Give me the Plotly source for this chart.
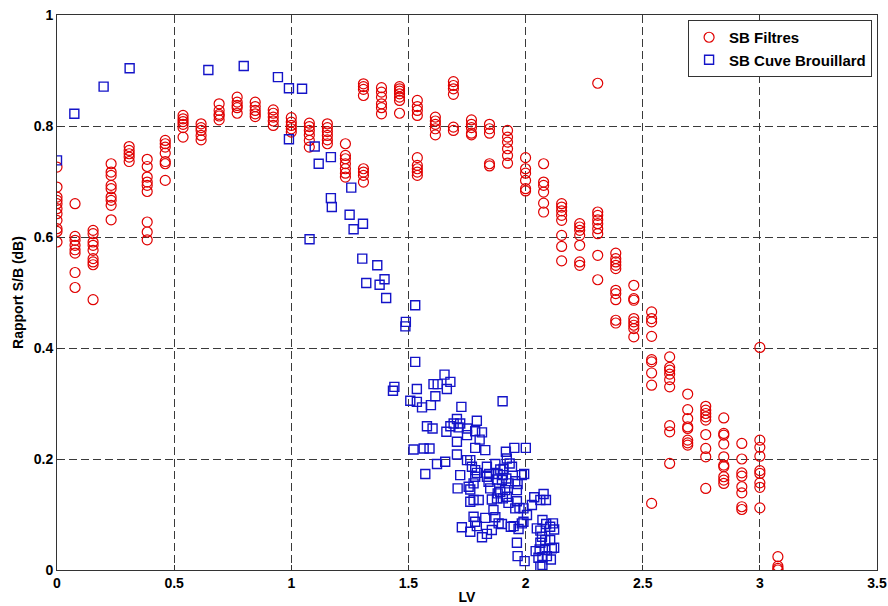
import plotly.graph_objects as go

# ---- SB Filtres (red circles): LV values and S/B values ----
red_lv = (
    [0.0]*11 + [0.077]*8 + [0.154]*9 + [0.231]*9 + [0.308]*5 + [0.385]*9 +
    [0.462]*7 + [0.538]*6 + [0.615]*5 + [0.692]*5 + [0.769]*5 + [0.846]*5 +
    [0.923]*5 + [1.0]*5 + [1.077]*6 + [1.154]*6 + [1.231]*7 + [1.308]*8 +
    [1.385]*6 + [1.462]*7 + [1.538]*9 + [1.615]*5 + [1.692]*6 + [1.769]*5 +
    [1.846]*5 + [1.923]*6 + [2.0]*6 + [2.077]*6 + [2.154]*8 + [2.231]*7 +
    [2.308]*9 + [2.385]*10 + [2.462]*8 + [2.538]*9 + [2.615]*9 + [2.692]*8 +
    [2.769]*9 + [2.846]*10 + [2.923]*8 + [3.0]*9 + [3.077]*4
)
red_sb = [
    0.726, 0.690, 0.672, 0.666, 0.660, 0.651, 0.642, 0.630, 0.615, 0.610, 0.591,
    0.660, 0.601, 0.594, 0.585, 0.577, 0.571, 0.536, 0.509,
    0.612, 0.606, 0.591, 0.585, 0.576, 0.561, 0.555, 0.550, 0.487,
    0.732, 0.717, 0.711, 0.693, 0.687, 0.672, 0.666, 0.657, 0.631,
    0.763, 0.756, 0.750, 0.744, 0.736,
    0.740, 0.727, 0.708, 0.699, 0.693, 0.682, 0.627, 0.609, 0.595,
    0.774, 0.768, 0.762, 0.751, 0.736, 0.732, 0.702,
    0.819, 0.813, 0.808, 0.803, 0.797, 0.780,
    0.804, 0.797, 0.792, 0.783, 0.775,
    0.840, 0.828, 0.821, 0.811, 0.818,
    0.852, 0.843, 0.837, 0.833, 0.823,
    0.843, 0.835, 0.828, 0.822, 0.817,
    0.829, 0.823, 0.816, 0.809, 0.801,
    0.815, 0.807, 0.801, 0.795, 0.789,
    0.805, 0.799, 0.792, 0.784, 0.774, 0.762,
    0.804, 0.797, 0.790, 0.783, 0.775, 0.768,
    0.768, 0.747, 0.741, 0.732, 0.723, 0.715, 0.708,
    0.876, 0.871, 0.866, 0.855, 0.723, 0.717, 0.711, 0.699,
    0.869, 0.861, 0.852, 0.840, 0.833, 0.822,
    0.871, 0.867, 0.863, 0.858, 0.852, 0.846, 0.823,
    0.846, 0.835, 0.828, 0.819, 0.743, 0.729, 0.723, 0.717, 0.711,
    0.816, 0.809, 0.803, 0.795, 0.784,
    0.880, 0.873, 0.867, 0.857, 0.798, 0.792,
    0.811, 0.803, 0.797, 0.787, 0.784,
    0.803, 0.795, 0.787, 0.732, 0.728,
    0.792, 0.780, 0.771, 0.759, 0.747, 0.733,
    0.743, 0.723, 0.715, 0.702, 0.687, 0.683,
    0.732, 0.699, 0.693, 0.681, 0.661, 0.645,
    0.660, 0.654, 0.647, 0.639, 0.630, 0.603, 0.583, 0.557,
    0.624, 0.618, 0.612, 0.603, 0.585, 0.555, 0.549,
    0.877, 0.645, 0.639, 0.631, 0.624, 0.615, 0.606, 0.567, 0.523,
    0.571, 0.561, 0.555, 0.549, 0.543, 0.504, 0.498, 0.487, 0.450, 0.445,
    0.513, 0.489, 0.486, 0.453, 0.447, 0.441, 0.435, 0.420,
    0.465, 0.453, 0.447, 0.421, 0.379, 0.375, 0.355, 0.333, 0.120,
    0.384, 0.365, 0.360, 0.353, 0.343, 0.330, 0.260, 0.249, 0.192,
    0.317, 0.289, 0.273, 0.258, 0.255, 0.234, 0.229, 0.225,
    0.295, 0.288, 0.282, 0.276, 0.270, 0.244, 0.219, 0.204, 0.147,
    0.274, 0.246, 0.243, 0.227, 0.204, 0.189, 0.186, 0.168, 0.162, 0.156,
    0.228, 0.200, 0.175, 0.169, 0.150, 0.139, 0.114, 0.109,
    0.401, 0.234, 0.221, 0.205, 0.179, 0.174, 0.157, 0.149, 0.112,
    0.024, 0.007, 0.003, 0.000,
]

# ---- SB Cuve Brouillard (blue squares) ----
blue_lv = [
    0.0, 0.074, 0.199, 0.31, 0.646, 0.797, 0.943, 0.99, 0.99, 1.046, 1.10, 1.117,
    1.169, 1.256, 1.169, 1.173, 1.249, 1.306, 1.266, 1.078, 1.303, 1.367, 1.320,
    1.377, 1.398, 1.405, 1.529,
    1.489, 1.487, 1.529, 1.654, 1.679, 1.607, 1.625, 1.440, 1.434, 1.536, 1.664,
    1.615, 1.508, 1.536, 1.558, 1.596, 1.902, 1.726, 1.707, 1.792, 1.579, 1.603,
    1.679, 1.693, 1.721, 1.714, 1.662, 1.750, 1.750, 1.785, 1.814, 1.804, 1.707,
    1.522, 1.565, 1.590, 1.785, 1.828, 1.952, 2.001, 1.916, 1.707, 1.750, 1.764,
    1.657, 1.622, 1.920, 1.932, 1.942, 1.771, 1.785, 1.792, 1.835, 1.871, 1.892,
    1.906, 1.845, 1.881, 1.903, 1.572, 1.721, 1.785, 1.778, 1.835, 1.842, 1.878,
    1.899, 1.918, 1.927, 1.956, 1.984, 1.994, 1.966, 1.710, 1.757, 1.764, 1.849,
    1.881, 1.892, 1.913, 1.903, 1.920, 1.963, 1.764, 1.778, 1.800, 1.856, 1.878,
    1.927, 1.963, 1.974, 1.956, 1.991, 2.006, 2.027, 2.037, 2.077, 2.063, 2.087,
    1.863, 1.828, 1.871, 1.885, 1.899, 1.937, 1.949, 1.984, 1.991, 1.970, 1.778,
    1.785, 1.792, 1.728, 1.814, 1.835, 1.856, 1.764, 2.048, 2.063, 2.072, 2.088,
    2.105, 2.117, 2.122, 2.070, 2.084, 2.063, 2.105, 2.043, 2.060, 2.084, 2.112,
    2.122, 2.055, 2.072, 2.091, 2.108, 2.063, 2.072, 1.966, 1.996, 1.963,
]
blue_sb = [
    0.738, 0.822, 0.871, 0.904, 0.901, 0.908, 0.888, 0.868, 0.776, 0.867, 0.763, 0.732,
    0.744, 0.689, 0.670, 0.654, 0.640, 0.624, 0.614, 0.596, 0.561, 0.549, 0.517,
    0.514, 0.524, 0.490, 0.477,
    0.447, 0.439, 0.375, 0.352, 0.339, 0.335, 0.335, 0.330, 0.323, 0.326, 0.326,
    0.313, 0.305, 0.303, 0.293, 0.297, 0.304, 0.294, 0.272, 0.269, 0.259, 0.255,
    0.259, 0.264, 0.264, 0.257, 0.249, 0.255, 0.243, 0.250, 0.248, 0.235, 0.231,
    0.217, 0.219, 0.219, 0.220, 0.216, 0.220, 0.220, 0.213, 0.208, 0.198, 0.198,
    0.195, 0.191, 0.201, 0.192, 0.186, 0.186, 0.180, 0.175, 0.186, 0.191, 0.181,
    0.182, 0.173, 0.173, 0.171, 0.173, 0.171, 0.168, 0.156, 0.168, 0.159, 0.163,
    0.162, 0.165, 0.156, 0.160, 0.171, 0.173, 0.155, 0.147, 0.150, 0.145, 0.147,
    0.138, 0.141, 0.144, 0.129, 0.132, 0.144, 0.123, 0.126, 0.126, 0.127, 0.129,
    0.121, 0.124, 0.112, 0.111, 0.111, 0.099, 0.117, 0.131, 0.137, 0.126, 0.126,
    0.108, 0.094, 0.095, 0.084, 0.083, 0.078, 0.079, 0.084, 0.087, 0.074, 0.096,
    0.087, 0.079, 0.077, 0.059, 0.065, 0.072, 0.069, 0.075, 0.071, 0.090, 0.083,
    0.078, 0.084, 0.073, 0.060, 0.054, 0.049, 0.054, 0.034, 0.037, 0.036, 0.039,
    0.040, 0.022, 0.023, 0.025, 0.019, 0.006, 0.009, 0.025, 0.016, 0.049,
]

x_ticks = [0, 0.5, 1, 1.5, 2, 2.5, 3, 3.5]
x_tick_labels = ["0", "0.5", "1", "1.5", "2", "2.5", "3", "3.5"]
y_ticks = [0, 0.2, 0.4, 0.6, 0.8, 1]
y_tick_labels = ["0", "0.2", "0.4", "0.6", "0.8", "1"]

FONT = "Liberation Sans, Arial, sans-serif"

fig = go.Figure()
fig.add_trace(go.Scatter(
    x=red_lv, y=red_sb, mode="markers", name="<b>SB Filtres</b>",
    marker=dict(symbol="circle-open", size=10, color="#e00000",
                line=dict(width=1.2, color="#e00000")),
))
fig.add_trace(go.Scatter(
    x=blue_lv, y=blue_sb, mode="markers", name="<b>SB Cuve Brouillard</b>",
    marker=dict(symbol="square-open", size=9, color="#1414c8",
                line=dict(width=1.4, color="#1414c8")),
))

axis_common = dict(
    showgrid=True, gridcolor="#3a3a3a", griddash="8px,4px", gridwidth=1,
    showline=True, linecolor="#333333", linewidth=1, mirror=True,
    zeroline=False, ticks="inside", ticklen=5, tickcolor="#333333",
    tickfont=dict(family=FONT, size=14, color="black"),
    automargin=False,
)

fig.update_layout(
    width=888, height=606,
    margin=dict(l=57, r=11, t=15, b=36),
    paper_bgcolor="white", plot_bgcolor="white",
    font=dict(family=FONT, color="black"),
    showlegend=True,
    legend=dict(
        x=0.994, y=0.991, xanchor="right", yanchor="top",
        bgcolor="white", bordercolor="#333333", borderwidth=1,
        font=dict(family=FONT, size=15, color="black"),
        itemwidth=30, tracegroupgap=0,
    ),
    xaxis=dict(
        range=[0, 3.5], tickvals=x_ticks,
        ticktext=["<b>%s</b>" % t for t in x_tick_labels],
        title=dict(text="<b>LV</b>", font=dict(family=FONT, size=14), standoff=2),
        **axis_common,
    ),
    yaxis=dict(
        range=[0, 1], tickvals=y_ticks,
        ticktext=["<b>%s</b>" % t for t in y_tick_labels],
        title=dict(text="<b>Rapport S/B (dB)</b>", font=dict(family=FONT, size=14), standoff=6),
        **axis_common,
    ),
)

fig.write_html(
    "out.html",
    config={"displayModeBar": False},
    post_script="document.body.style.margin='0';document.body.style.padding='0';document.body.style.overflow='hidden';",
)
